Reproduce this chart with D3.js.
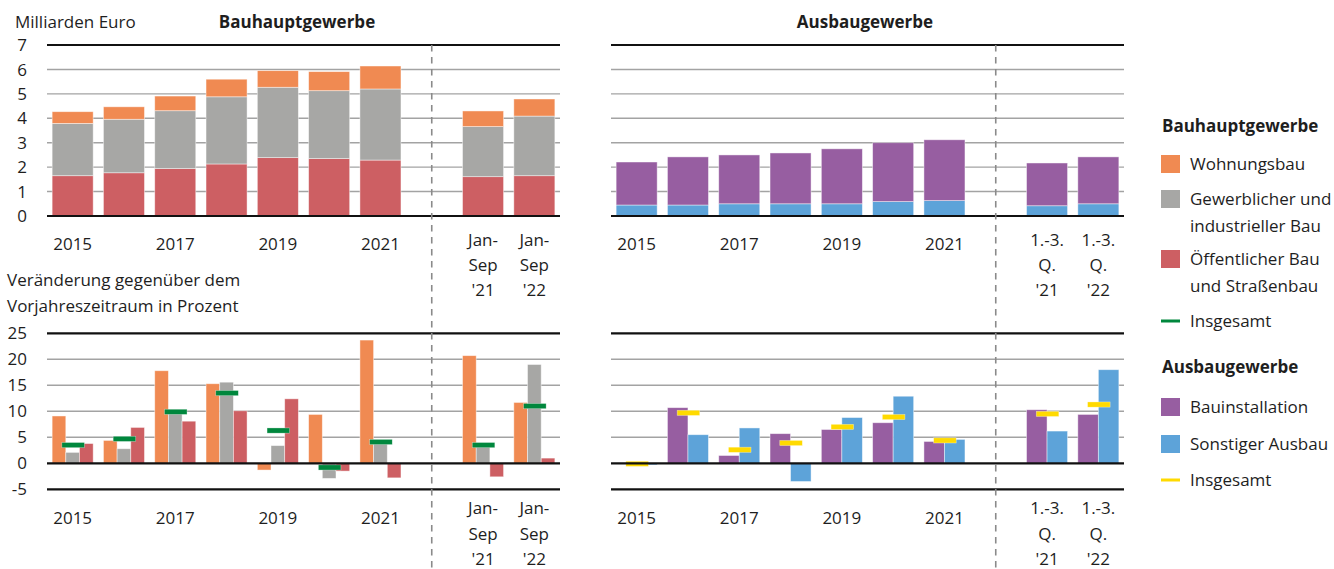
<!DOCTYPE html>
<html><head><meta charset="utf-8">
<script src="https://cdn.jsdelivr.net/npm/d3@7"></script>
<style>
body{margin:0;background:#fff;}
svg{display:block;}
text{font-family:"Open Sans",Lato,sans-serif;fill:#1e1e1e;}
</style></head><body>
<svg id="c" width="1334" height="569"></svg>
<script>
// ---------- data ----------
const categories = ["2015","2016","2017","2018","2019","2020","2021","gap","JS21","JS22"];
const leftXLabels  = [["2015"],[],["2017"],[],["2019"],[],["2021"],[],["Jan-","Sep","'21"],["Jan-","Sep","'22"]];
const rightXLabels = [["2015"],[],["2017"],[],["2019"],[],["2021"],[],["1.-3.","Q.","'21"],["1.-3.","Q.","'22"]];
const topTicks = [0,1,2,3,4,5,6,7];
const botTicks = [-5,0,5,10,15,20,25];

// levels, Mrd. Euro
const wohnungsbau     = [0.48,0.51,0.60,0.72,0.68,0.78,0.94,null,0.64,0.70];
const gewerblich      = [2.14,2.19,2.37,2.75,2.88,2.78,2.91,null,2.05,2.44];
const oeffentlich     = [1.65,1.77,1.94,2.13,2.39,2.35,2.29,null,1.61,1.65];
const bauinstallation = [1.76,1.97,2.00,2.08,2.25,2.41,2.49,null,1.75,1.92];
const sonstiger       = [0.45,0.45,0.50,0.50,0.50,0.59,0.63,null,0.42,0.50];

// changes, %
const wohnChg   = [9.1,4.4,17.8,15.3,-1.3,9.4,23.7,null,20.7,11.7];
const gewChg    = [2.1,2.8,9.9,15.6,3.4,-2.9,4.3,null,3.2,19.0];
const oefChg    = [3.8,6.9,8.1,10.1,12.4,-1.5,-2.8,null,-2.6,1.0];
const bauhTotChg= [3.5,4.7,9.9,13.5,6.3,-0.8,4.1,null,3.5,11.0];
const instChg   = [0.0,10.7,1.5,5.7,6.5,7.8,4.2,null,10.3,9.4];
const sonstChg  = [-0.3,5.5,6.8,-3.5,8.8,12.9,4.6,null,6.2,18.0];
const ausbTotChg= [-0.1,9.7,2.6,3.9,7.0,8.9,4.4,null,9.5,11.3];

const C = {orange:"#F08A52", gray:"#A7A7A5", red:"#CD5F63", green:"#00873D",
           purple:"#975EA1", blue:"#5DA3D9", yellow:"#FFDA00"};
const FS = 17;

// ---------- scales ----------
const svg = d3.select("#c");
const xL = d3.scaleBand().domain(categories).range([47,560]).paddingInner(0.2).paddingOuter(0.1);
const xR = xL.copy().range([611,1124]);
const yT = d3.scaleLinear().domain([0,7]).range([216,45]);
const yB = d3.scaleLinear().domain([-5,25]).range([489.3,333.3]);
const bw = xL.bandwidth();

function grid(x, y, ticks, black){
  const g = svg.append("g");
  g.selectAll("line").data(ticks).join("line")
    .attr("x1", x.range()[0]).attr("x2", x.range()[1])
    .attr("y1", d=>y(d)).attr("y2", d=>y(d))
    .attr("stroke", d=>black.includes(d)?"#111":"#A3A3A3")
    .attr("stroke-width", d=>black.includes(d)?2.2:1.4);
  return g;
}
function yLabels(y, ticks){
  svg.append("g").selectAll("text").data(ticks).join("text")
    .attr("x",27).attr("y",d=>y(d)).attr("dy","0.36em")
    .attr("text-anchor","end").attr("font-size",FS).text(d=>d);
}
function xLabels(x, labels, ySingle, yMulti, lh){
  const g = svg.append("g");
  categories.forEach((c,i)=>{
    const lines = labels[i]; if(!lines.length) return;
    const t = g.append("text").attr("text-anchor","middle").attr("font-size",FS)
      .attr("x", x(c)+bw/2).attr("y", lines.length>1 ? yMulti : ySingle);
    lines.forEach((s,j)=>t.append("tspan").attr("x",x(c)+bw/2).attr("dy", j?lh:0).text(s));
  });
}

// grids
grid(xL, yT, topTicks.filter(d=>d!==0 && d!==7), []);
grid(xR, yT, topTicks.filter(d=>d!==0 && d!==7), []);
grid(xL, yB, botTicks.filter(d=>d>0 && d<25), []);
grid(xR, yB, botTicks.filter(d=>d>0 && d<25), []);

// ---------- top stacked bars ----------
function stacked(x, keys, arrays, colors){
  const rows = categories.map((c,i)=>{const r={cat:c}; keys.forEach((k,j)=>r[k]=arrays[j][i]); return r;})
    .filter(r=>r[keys[0]]!==null);
  const st = d3.stack().keys(keys)(rows);
  svg.append("g").selectAll("g").data(st).join("g").attr("fill",(d,i)=>colors[i])
    .selectAll("rect").data(d=>d).join("rect")
    .attr("x",d=>x(d.data.cat)).attr("width",bw)
    .attr("y",d=>yT(d[1])).attr("height",d=>yT(d[0])-yT(d[1]))
    .attr("stroke","rgba(255,255,255,0.55)").attr("stroke-width",0.8);
}
stacked(xL, ["oef","gew","wohn"], [oeffentlich,gewerblich,wohnungsbau], [C.red,C.gray,C.orange]);
stacked(xR, ["son","inst"], [sonstiger,bauinstallation], [C.blue,C.purple]);

// ---------- bottom grouped bars ----------
function grouped(x, arrays, colors, total, tcol){
  const inner = d3.scaleBand().domain(d3.range(arrays.length)).range([0,bw]);
  const g = svg.append("g");
  arrays.forEach((arr,j)=>{
    g.append("g").attr("fill",colors[j]).selectAll("rect")
      .data(categories.map((c,i)=>({c,v:arr[i]})).filter(d=>d.v!==null && d.v!==0))
      .join("rect")
      .attr("x",d=>x(d.c)+inner(j)).attr("width",inner.bandwidth())
      .attr("y",d=>yB(Math.max(0,d.v))).attr("height",d=>Math.abs(yB(d.v)-yB(0)))
      .attr("stroke","rgba(255,255,255,0.55)").attr("stroke-width",0.8);
  });
  const mw = bw*0.55;
  g.append("g").attr("fill",tcol).selectAll("rect")
    .data(categories.map((c,i)=>({c,v:total[i]})).filter(d=>d.v!==null))
    .join("rect")
    .attr("x",d=>x(d.c)+bw/2-mw/2+0.5).attr("width",mw)
    .attr("y",d=>yB(d.v)-2.6).attr("height",5.2)
    .attr("stroke","rgba(255,255,255,0.5)").attr("stroke-width",0.6);
}
grouped(xL, [wohnChg,gewChg,oefChg], [C.orange,C.gray,C.red], bauhTotChg, C.green);
grouped(xR, [instChg,sonstChg], [C.purple,C.blue], ausbTotChg, C.yellow);

// black lines on top
grid(xL, yT, [0,7], [0,7]);
grid(xR, yT, [0,7], [0,7]);
grid(xL, yB, [-5,0,25], [-5,0,25]);
grid(xR, yB, [-5,0,25], [-5,0,25]);

// dashed separators
[xL,xR].forEach(x=>{
  const cx = x("gap")+bw/2;
  svg.append("line").attr("x1",cx).attr("x2",cx).attr("y1",yT(7)).attr("y2",569)
    .attr("stroke","#8A8A8A").attr("stroke-width",1.6).attr("stroke-dasharray","6.5,5.5");
});

// axis labels
yLabels(yT, topTicks);
yLabels(yB, botTicks);
xLabels(xL, leftXLabels, 250, 246, 25);
xLabels(xR, rightXLabels, 250, 246, 25);
xLabels(xL, leftXLabels, 524, 514, 25.5);
xLabels(xR, rightXLabels, 524, 514, 25.5);

// titles
svg.append("text").attr("x",15).attr("y",28).attr("font-size",FS).text("Milliarden Euro");
svg.append("text").attr("x",297).attr("y",28).attr("font-size",FS).attr("font-weight","bold")
  .attr("text-anchor","middle").text("Bauhauptgewerbe");
svg.append("text").attr("x",865).attr("y",28).attr("font-size",FS).attr("font-weight","bold")
  .attr("text-anchor","middle").text("Ausbaugewerbe");
svg.append("text").attr("x",7).attr("y",286).attr("font-size",FS).text("Veränderung gegenüber dem");
svg.append("text").attr("x",7).attr("y",312).attr("font-size",FS).text("Vorjahreszeitraum in Prozent");

// ---------- legend ----------
const legendItems = [
  {type:"head", label:["Bauhauptgewerbe"], y:126},
  {type:"box", color:C.orange, label:["Wohnungsbau"], y:164},
  {type:"box", color:C.gray, label:["Gewerblicher und","industrieller Bau"], y:199},
  {type:"box", color:C.red, label:["Öffentlicher Bau","und Straßenbau"], y:259},
  {type:"line", color:C.green, label:["Insgesamt"], y:321},
  {type:"head", label:["Ausbaugewerbe"], y:367},
  {type:"box", color:C.purple, label:["Bauinstallation"], y:407},
  {type:"box", color:C.blue, label:["Sonstiger Ausbau"], y:444},
  {type:"line", color:C.yellow, label:["Insgesamt"], y:480}
];
const lg = svg.append("g");
legendItems.forEach(it=>{
  if(it.type==="head"){
    lg.append("text").attr("x",1162).attr("y",it.y).attr("dy","0.36em")
      .attr("font-size",FS).attr("font-weight","bold").text(it.label[0]);
    return;
  }
  if(it.type==="box"){
    lg.append("rect").attr("x",1161).attr("y",it.y-9).attr("width",19).attr("height",18).attr("fill",it.color);
  } else {
    lg.append("rect").attr("x",1161).attr("y",it.y-1.5).attr("width",19).attr("height",3).attr("fill",it.color);
  }
  const t = lg.append("text").attr("x",1190).attr("y",it.y).attr("font-size",FS);
  it.label.forEach((s,j)=>t.append("tspan").attr("x",1190).attr("dy", j?26.5:"0.36em").text(s));
});
</script>
</body></html>
